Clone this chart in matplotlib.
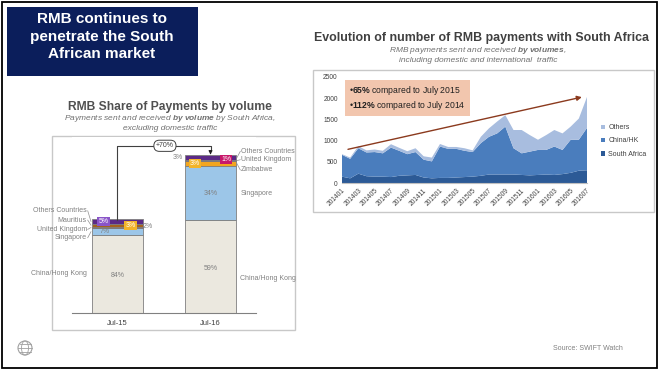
import numpy as np
import matplotlib.pyplot as plt
from matplotlib.patches import Rectangle, Ellipse, Circle

plt.rcParams["font.family"] = ["Liberation Sans", "DejaVu Sans"]
plt.rcParams["mathtext.fontset"] = "custom"
plt.rcParams["mathtext.rm"] = "Liberation Sans"
plt.rcParams["mathtext.it"] = "Liberation Sans:italic"
plt.rcParams["mathtext.bf"] = "Liberation Sans:italic:bold"
plt.rcParams["mathtext.sf"] = "Liberation Sans:bold"

# ---- left chart: share of payments by volume ----
bar_labels = ["Jul-15", "Jul-16"]
bar_totals = [100, 170]  # Jul-16 is +70% vs Jul-15
jul15_names = ["China/Hong Kong", "Singapore", "United Kingdom", "Mauritius", "Others Countries"]
jul15_share = [84, 7, 2, 3, 5]
jul16_names = ["China/Hong Kong", "Singapore", "Zimbabwe", "United Kingdom", "Others Countries"]
jul16_share = [59, 34, 3, 1, 3]

seg_colors = {
    "China/Hong Kong": "#ebe8df",
    "Singapore": "#9cc6e8",
    "United Kingdom": "#6a2240",
    "Mauritius": "#a4621e",
    "Zimbabwe": "#f2a51f",
    "Others Countries": "#5b2a86",
}

# ---- right chart: monthly RMB payments ----
months = ["2014%02d" % m for m in range(1, 13)] + ["2015%02d" % m for m in range(1, 13)] + \
         ["2016%02d" % m for m in range(1, 8)]
south_africa = [150, 110, 220, 160, 150, 150, 140, 170, 180, 190, 130, 110, 120, 120, 130, 140,
                150, 170, 200, 200, 200, 200, 190, 180, 190, 200, 190, 210, 240, 290, 300]
china_hk = [515, 460, 600, 560, 580, 550, 695, 590, 500, 540, 420, 400, 740, 685, 675, 620,
            580, 770, 890, 970, 1130, 620, 510, 560, 590, 580, 670, 570, 780, 730, 1000]
others = [15, 30, 50, 50, 60, 60, 80, 70, 70, 90, 80, 90, 60, 45, 45, 60,
          40, 150, 200, 280, 270, 430, 550, 390, 240, 350, 390, 390, 310, 500, 730]

fig = plt.figure(figsize=(6.6, 3.73), dpi=100)

# pixel overlay for the slide decorations
bg = fig.add_axes([0, 0, 1, 1])
bg.set_xlim(0, 660)
bg.set_ylim(373, 0)
bg.axis("off")

bg.add_patch(Rectangle((2, 2), 655, 366, fill=False, ec="black", lw=1.3))
bg.add_patch(Rectangle((7, 7), 191, 69, fc="#0b1e5b", ec="none"))
for i, line in enumerate(["RMB continues to", "penetrate the South", "African market"]):
    bg.text(102, 19 + 17.5 * i, line, color="white", fontsize=11, fontweight="bold",
            ha="center", va="center")

# left panel
bg.add_patch(Rectangle((52, 136), 243, 194, fill=False, ec="#c8c8c8", lw=1))
bg.text(170, 107, "RMB Share of Payments by volume", fontsize=8.7, fontweight="bold",
        color="#505050", ha="center", va="center")
bg.text(170, 118, "Payments sent and received $\\mathbf{by\\ volume}$ by South Africa,",
        fontsize=6, style="italic", color="#707070", ha="center", va="center")
bg.text(170, 129, "excluding domestic traffic", fontsize=6, style="italic",
        color="#707070", ha="center", va="center")

# right panel
bg.add_patch(Rectangle((313, 70), 341, 142, fill=False, ec="#c8c8c8", lw=1))
bg.text(481, 38, "Evolution of number of RMB payments with South Africa", fontsize=8.9,
        fontweight="bold", color="#404040", ha="center", va="center")
bg.text(478, 50, "RMB payments sent and received $\\mathbf{by\\ volumes}$,", fontsize=6,
        style="italic", color="#707070", ha="center", va="center")
bg.text(478, 60, "including domestic and international  traffic", fontsize=6,
        style="italic", color="#707070", ha="center", va="center")

bg.text(553, 348, "Source: SWIFT Watch", fontsize=5, color="#808080", ha="left", va="center")
bg.add_patch(Circle((25, 348), 7, fill=False, ec="#a0a0a0", lw=0.8))
bg.add_patch(Ellipse((25, 348), 7, 14, fill=False, ec="#a0a0a0", lw=0.6))
bg.plot([18, 32], [348, 348], color="#a0a0a0", lw=0.6)
bg.plot([19.5, 30.5], [344, 344], color="#a0a0a0", lw=0.6)
bg.plot([19.5, 30.5], [352, 352], color="#a0a0a0", lw=0.6)

# ---- bar chart ----
axb = fig.add_axes([72 / 660, 1 - 313 / 373, 184 / 660, 176.5 / 373])
axb.set_xlim(-0.489, 1.489)
axb.set_ylim(0, 190)
for s in ["top", "right", "left"]:
    axb.spines[s].set_visible(False)
axb.spines["bottom"].set_color("#808080")
axb.set_yticks([])
axb.set_xticks([0, 1])
axb.set_xticklabels(bar_labels, fontsize=5.5, color="#404040")
axb.tick_params(axis="x", length=0, pad=5)

width = 0.55
stacks = []
for xi, (names, shares, total) in enumerate([(jul15_names, jul15_share, bar_totals[0]),
                                             (jul16_names, jul16_share, bar_totals[1])]):
    bottom = 0
    tops = []
    for name, sh in zip(names, shares):
        h = sh * total / 100.0
        axb.bar(xi, h, width, bottom=bottom, color=seg_colors[name], edgecolor="#7f7f7f", lw=0.6)
        tops.append((bottom, bottom + h))
        bottom += h
    stacks.append(tops)

pct_kw = dict(fontsize=5, color="#808080", ha="center", va="center")
axb.text(0, 40, "84%", **pct_kw)
axb.text(1, 48, "59%", **pct_kw)
axb.text(1, 129, "34%", **pct_kw)
axb.text(-0.14, sum(stacks[0][1]) / 2, "7%", **pct_kw)
axb.text(0.33, 93, "2%", **pct_kw)
axb.text(0.65, 167.5, "3%", **pct_kw)

def boxed(x, y, s, fc, tc="white"):
    axb.text(x, y, s, fontsize=5, color=tc, ha="center", va="center",
             bbox=dict(boxstyle="square,pad=0.15", fc=fc, ec="none"))

boxed(-0.15, sum(stacks[0][4]) / 2, "%d%%" % jul15_share[4], "#8a55c8")
boxed(0.14, sum(stacks[0][3]) / 2, "%d%%" % jul15_share[3], "#f2b42a")
boxed(0.83, sum(stacks[1][2]) / 2, "%d%%" % jul16_share[2], "#f2b42a")
boxed(1.17, sum(stacks[1][3]) / 2 + 0.8, "%d%%" % jul16_share[3], "#c8186a")

lab_kw = dict(fontsize=5, color="#808080", va="center")
# Jul-15 labels on the left
left_y = [110, 100, 90, 81]
left_names = ["Others Countries", "Mauritius", "United Kingdom", "Singapore"]
left_seg = [4, 3, 2, 1]
for yy, nm, si in zip(left_y, left_names, left_seg):
    axb.text(-0.33, yy, nm, ha="right", clip_on=False, **lab_kw)
    axb.plot([-0.32, -0.285], [yy, sum(stacks[0][si]) / 2], color="#909090", lw=0.5, clip_on=False)
axb.text(-0.33, 43, "China/Hong Kong", ha="right", clip_on=False, **lab_kw)

right_y = [174, 165, 154]
right_names = ["Others Countries", "United Kingdom", "Zimbabwe"]
right_seg = [4, 3, 2]
for yy, nm, si in zip(right_y, right_names, right_seg):
    axb.text(1.33, yy, nm, ha="left", clip_on=False, **lab_kw)
    axb.plot([1.285, 1.32], [sum(stacks[1][si]) / 2, yy], color="#909090", lw=0.5, clip_on=False)
axb.text(1.32, 129, "Singapore", ha="left", clip_on=False, **lab_kw)
axb.text(1.32, 37, "China/Hong Kong", ha="left", clip_on=False, **lab_kw)

# +70% connector
axb.plot([0, 0, 1, 1], [bar_totals[0], 180, 180, 174], color="#404040", lw=0.8, clip_on=False)
axb.annotate("", xy=(1, bar_totals[1] + 0.5), xytext=(1, 175),
             arrowprops=dict(arrowstyle="-|>", color="#202020", lw=0.8, mutation_scale=5))
axb.text(0.51, 180, "+70%", fontsize=5, color="#404040", ha="center", va="center",
         bbox=dict(boxstyle="round,pad=0.3,rounding_size=0.8", fc="white", ec="#404040", lw=0.7))

# ---- area chart ----
axa = fig.add_axes([342 / 660, 1 - 183 / 373, 245 / 660, 106 / 373])
x = np.arange(len(months))
axa.stackplot(x, south_africa, china_hk, others,
              colors=["#2c5a96", "#4a7dbd", "#a8bddf"],
              labels=["South Africa", "China/HK", "Others"])
axa.set_xlim(0, len(months) - 1)
axa.set_ylim(0, 2500)
axa.set_yticks(range(0, 2501, 500))
axa.set_xticks(x[::2])
axa.set_xticklabels(months[::2], rotation=45, ha="right", rotation_mode="anchor")
axa.tick_params(labelsize=4.8, colors="#404040", length=0, pad=3)
for s in ["top", "right", "left"]:
    axa.spines[s].set_visible(False)
axa.spines["bottom"].set_color("#c0c0c0")

axa.text(0.9, 2330, "•$\\mathsf{65\\%}$ compared to July 2015\n•$\\mathsf{112\\%}$ compared to July 2014",
         fontsize=6.2, color="#202020", va="top", ha="left", linespacing=1.2,
         bbox=dict(boxstyle="square,pad=0.5", fc="#f2c6ae", ec="none"))
axa.annotate("", xy=(29.7, 2040), xytext=(0.4, 780),
             arrowprops=dict(arrowstyle="-|>", color="#8b3a1e", lw=1.0, mutation_scale=7))

h, l = axa.get_legend_handles_labels()
fig.legend(h[::-1], l[::-1], loc="center left", bbox_to_anchor=(595 / 660, 1 - 141 / 373),
           frameon=False, fontsize=5, handlelength=0.6, handleheight=0.6, labelspacing=0.9,
           handletextpad=0.4, labelcolor="#404040")

fig.savefig("out.png", dpi=100)
